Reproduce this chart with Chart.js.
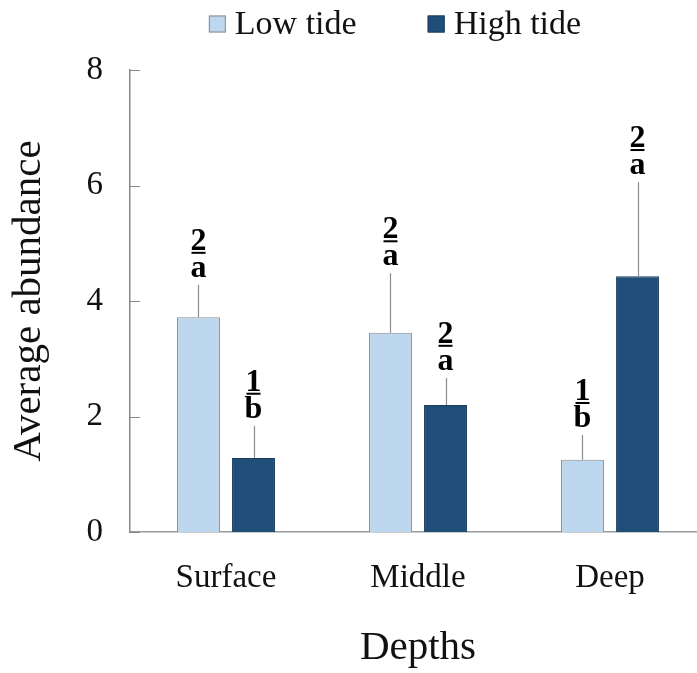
<!DOCTYPE html>
<html>
<head>
<meta charset="utf-8">
<script src="https://cdn.jsdelivr.net/npm/chart.js@4"></script>
<style>
html,body{margin:0;padding:0;background:#fff;overflow:hidden;}
#wrap{width:697px;height:673px;overflow:hidden;}
</style>
</head>
<body>
<div id="wrap"><canvas id="c" width="720" height="673"></canvas></div>
<script>
const categories = ["Surface", "Middle", "Deep"];
const seriesNames = ["Low tide", "High tide"];
const lowTide = [3.72, 3.45, 1.25];
const highTide = [1.28, 2.20, 4.43];
const lowTideUpper = [4.28, 4.48, 1.68];
const highTideUpper = [1.84, 2.67, 6.06];
const lowTideNum = ["2", "2", "1"];
const lowTideLetter = ["a", "a", "b"];
const highTideNum = ["1", "2", "2"];
const highTideLetter = ["b", "a", "a"];
const yTicks = [0, 2, 4, 6, 8];

const SERIF = "'Liberation Serif', 'Times New Roman', serif";
const colors = ["#BDD7EE", "#1F4E79"];
const borders = ["#8a8a8a", "#1a3c5c"];

const extras = [
  {upper: lowTideUpper, num: lowTideNum, letter: lowTideLetter},
  {upper: highTideUpper, num: highTideNum, letter: highTideLetter}
];

const decor = {
  id: "decor",
  afterDatasetsDraw(chart) {
    const ctx = chart.ctx;
    const y = chart.scales.y;
    const area = chart.chartArea;
    ctx.save();
    // inside tick marks on y axis
    ctx.strokeStyle = "#888";
    ctx.lineWidth = 1;
    yTicks.forEach(v => {
      const py = Math.round(y.getPixelForValue(v)) + 0.5;
      ctx.beginPath();
      ctx.moveTo(area.left, py);
      ctx.lineTo(area.left + 10, py);
      ctx.stroke();
    });
    // error bars + annotations
    chart.data.datasets.forEach((ds, di) => {
      const meta = chart.getDatasetMeta(di);
      const ex = extras[di];
      meta.data.forEach((bar, i) => {
        const x = Math.round(bar.x) + 0.5;
        const top = y.getPixelForValue(ex.upper[i]);
        ctx.strokeStyle = "#8c8c8c";
        ctx.lineWidth = 1.2;
        ctx.beginPath();
        ctx.moveTo(x, bar.y);
        ctx.lineTo(x, top);
        ctx.stroke();
        ctx.fillStyle = "#000";
        ctx.font = "bold 32px " + SERIF;
        ctx.textAlign = "center";
        ctx.textBaseline = "alphabetic";
        const base = top - 8;
        ctx.fillText(ex.letter[i], bar.x, base);
        const lineY = base - 25;
        ctx.fillRect(bar.x - 7, lineY, 14, 2);
        ctx.fillText(ex.num[i], bar.x, lineY - 2);
      });
    });
    // legend
    ctx.font = "34px " + SERIF;
    ctx.textBaseline = "middle";
    ctx.textAlign = "left";
    const box = 17, gap = 9, spacing = 71;
    const widths = chart.data.datasets.map(d => box + gap + ctx.measureText(d.label).width);
    const total = widths.reduce((a, b) => a + b, 0) + spacing * (widths.length - 1);
    let lx = 395 - total / 2;
    const ly = 24;
    chart.data.datasets.forEach((d, di) => {
      ctx.fillStyle = d.backgroundColor;
      ctx.fillRect(lx, ly - box / 2, box, box);
      ctx.strokeStyle = d.borderColor;
      ctx.lineWidth = 1;
      ctx.strokeRect(lx + 0.5, ly - box / 2 + 0.5, box - 1, box - 1);
      ctx.fillStyle = "#111";
      ctx.fillText(d.label, lx + box + gap, ly + 1);
      lx += widths[di] + spacing;
    });
    ctx.restore();
  }
};

new Chart(document.getElementById("c"), {
  type: "bar",
  data: {
    labels: categories,
    datasets: [
      {label: seriesNames[0], data: lowTide, backgroundColor: colors[0], borderColor: borders[0], borderWidth: 1},
      {label: seriesNames[1], data: highTide, backgroundColor: colors[1], borderColor: borders[1], borderWidth: 1}
    ]
  },
  options: {
    responsive: false,
    animation: false,
    devicePixelRatio: 1,
    categoryPercentage: 0.573,
    barPercentage: 0.78,
    layout: {padding: {top: 70, right: 14, left: 0, bottom: 0}},
    plugins: {legend: {display: false}, tooltip: {enabled: false}},
    scales: {
      x: {
        grid: {display: false},
        border: {display: true, color: "#999", width: 1.5},
        ticks: {color: "#111", font: {family: SERIF, size: 33}, padding: 19},
        title: {display: true, text: "Depths", color: "#111", font: {family: SERIF, size: 41}, padding: {top: 0, bottom: 0}},
        afterFit(s) { s.height = 141; }
      },
      y: {
        min: 0, max: 8,
        afterBuildTicks(s) { s.ticks = yTicks.map(v => ({value: v})); },
        grid: {display: false},
        border: {display: true, color: "#888", width: 1.5},
        ticks: {color: "#111", font: {family: SERIF, size: 33}, padding: 19},
        title: {display: true, text: "Average abundance", color: "#111", font: {family: SERIF, size: 41}, padding: {top: 5, bottom: 0}},
        afterFit(s) { s.width = 130; }
      }
    }
  },
  plugins: [decor]
});
</script>
</body>
</html>
